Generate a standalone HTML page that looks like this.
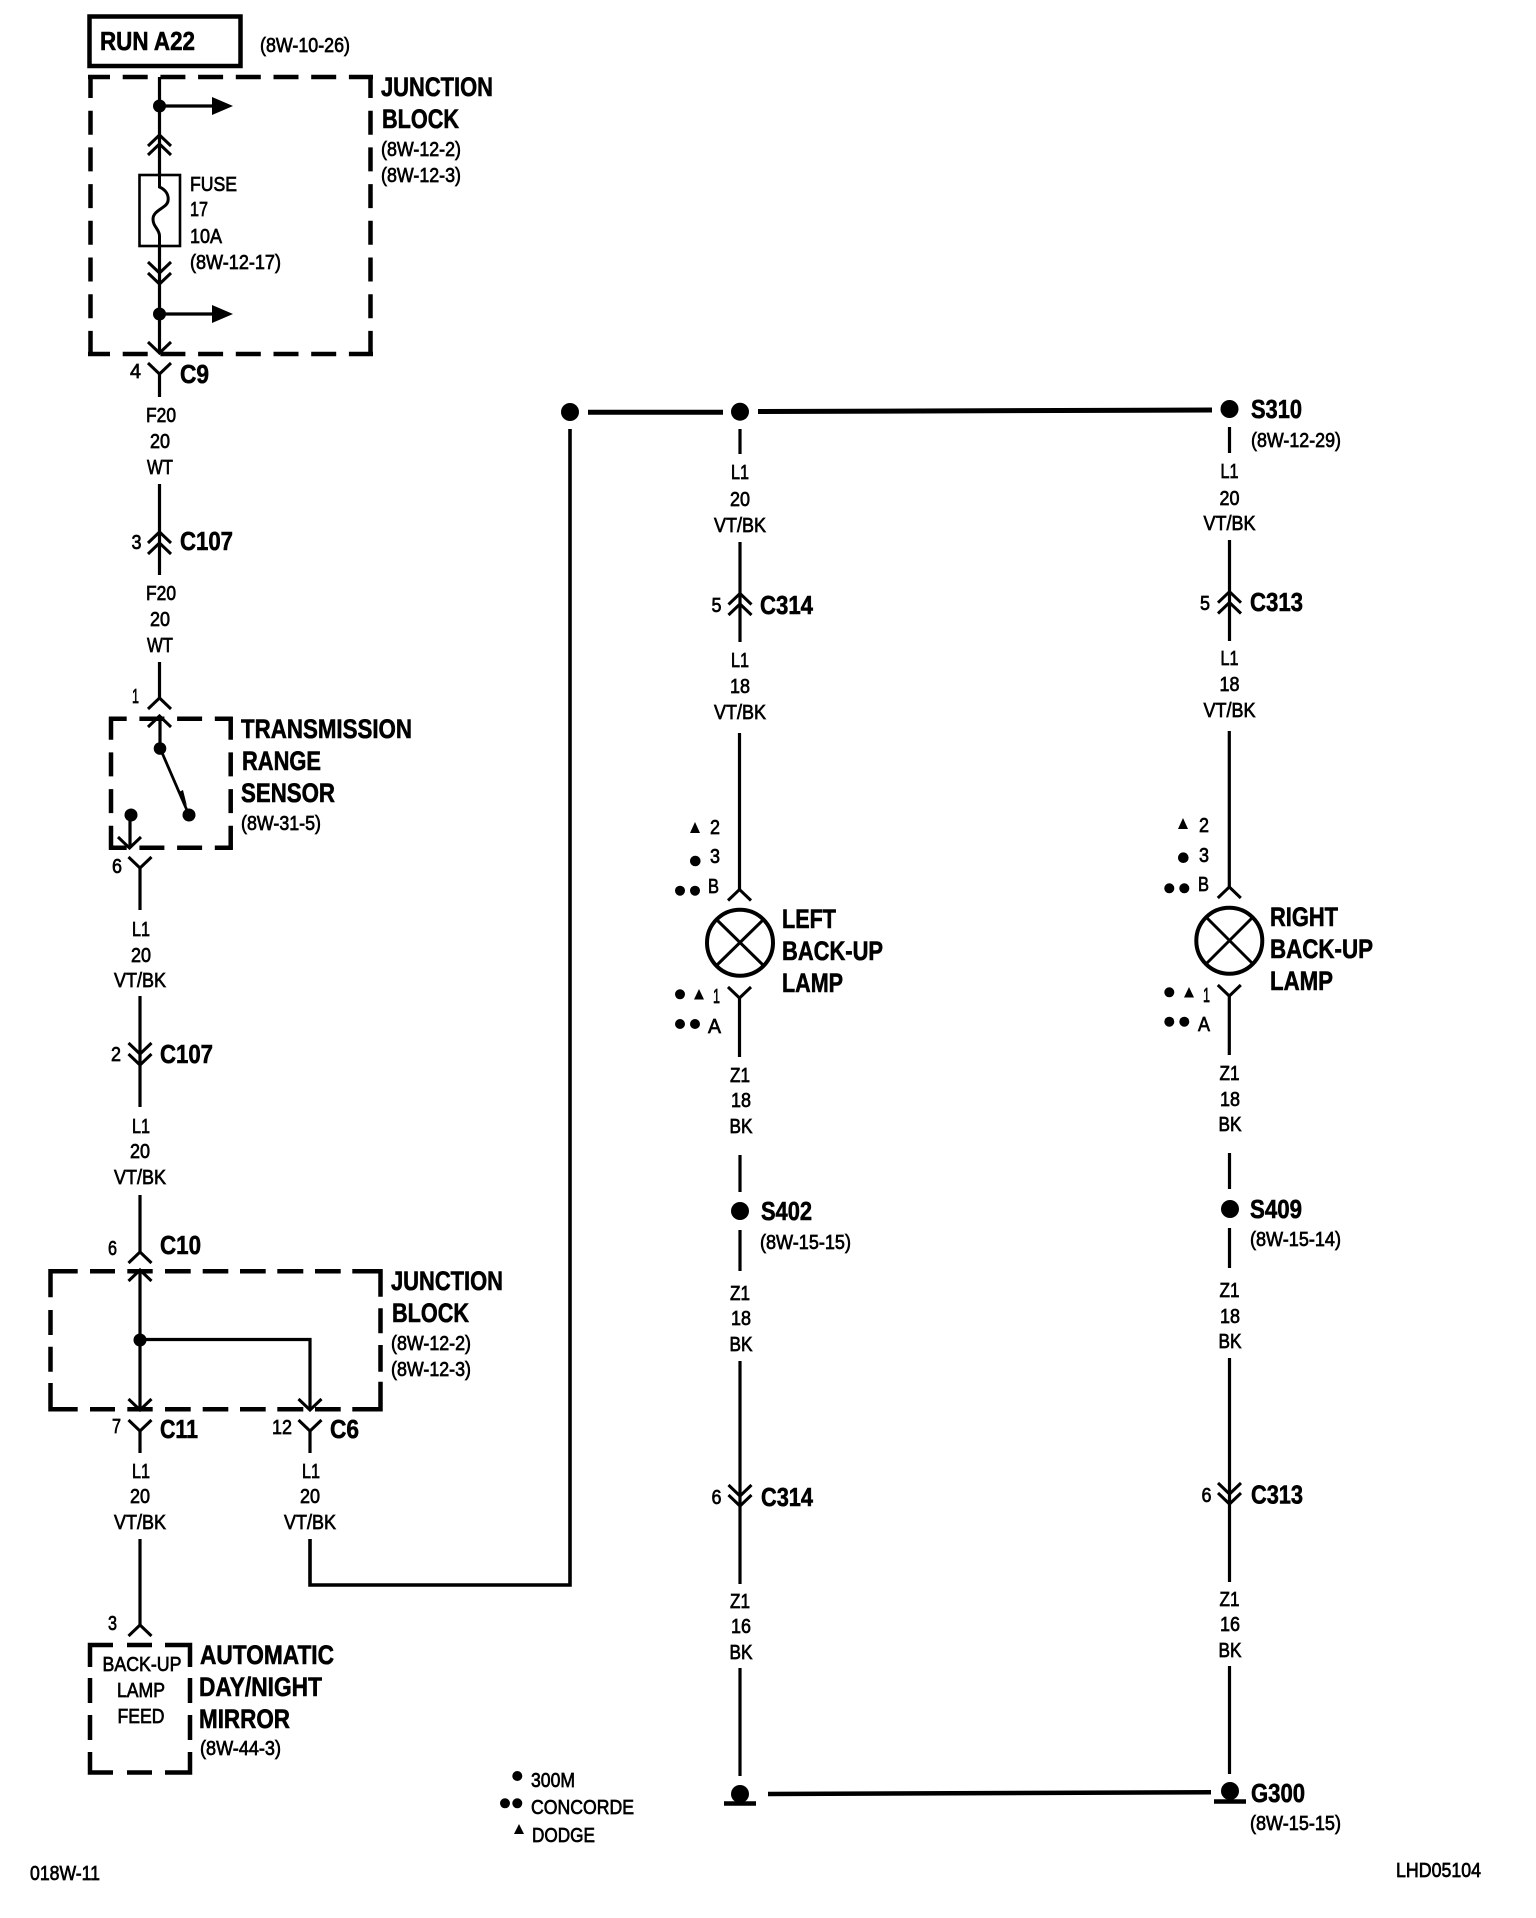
<!DOCTYPE html>
<html>
<head>
<meta charset="utf-8">
<style>
html,body{margin:0;padding:0;background:#fff;}
svg{display:block;}
text{font-family:"Liberation Sans",sans-serif;fill:#000;}
.s{font-size:20.5px;stroke:#000;stroke-width:.7;}
.b{font-size:27px;font-weight:bold;stroke:#000;stroke-width:.6;}
.c{font-size:26px;font-weight:bold;stroke:#000;stroke-width:.6;}
.m{text-anchor:middle;}
.w{fill:none;stroke:#000;stroke-width:3.2;}
.h{fill:none;stroke:#000;stroke-width:4.5;}
.d{fill:none;stroke:#000;stroke-width:4.5;}
.ch{fill:none;stroke:#000;stroke-width:3;}
</style>
</head>
<body>
<svg xmlns="http://www.w3.org/2000/svg" width="1536" height="1918" viewBox="0 0 1536 1918">
<defs>
<path id="cu" d="M-11.5,11L0,0L11.5,11"/>
<path id="cd" d="M-11.5,-11L0,0L11.5,-11"/>
</defs>
<rect x="0" y="0" width="1536" height="1918" fill="#fff"/>

<!-- RUN A22 -->
<rect x="89.5" y="16.5" width="151" height="49.5" fill="none" stroke="#000" stroke-width="4.5"/>
<text class="c" x="100" y="50" textLength="95" lengthAdjust="spacingAndGlyphs">RUN A22</text>
<text class="s" x="260" y="52" textLength="90" lengthAdjust="spacingAndGlyphs">(8W-10-26)</text>

<!-- Junction block 1 -->
<path class="d" d="M88,77H373" stroke-dasharray="25 12.7" stroke-dashoffset="3"/>
<path class="d" d="M88,354H373" stroke-dasharray="25 12.7" stroke-dashoffset="3"/>
<path class="d" d="M90.5,75V356" stroke-dasharray="24 12.7" stroke-dashoffset="1"/>
<path class="d" d="M370.5,75V356" stroke-dasharray="24 12.7" stroke-dashoffset="1"/>
<path class="w" d="M159.5,77V175M159.5,246V353"/>
<circle cx="159.5" cy="106" r="6.5"/>
<path class="w" d="M160,106H214"/>
<polygon points="212,97 233,106 212,115"/>
<circle cx="159.5" cy="314" r="6.5"/>
<path class="w" d="M160,314H214"/>
<polygon points="212,305 233,314 212,323"/>
<g class="ch">
<use href="#cu" x="159.5" y="135"/><use href="#cu" x="159.5" y="144"/>
<use href="#cd" x="159.5" y="273"/><use href="#cd" x="159.5" y="284"/>
<use href="#cd" x="159.5" y="353"/><use href="#cd" x="159.5" y="374"/>
</g>
<rect x="139.5" y="175" width="40.5" height="71" fill="none" stroke="#000" stroke-width="2.6"/>
<path class="w" style="stroke-width:3" d="M159.5,175V187C166,190 169,195 168,201C167,208 153,210 153,219C153,227 159.5,229 159.5,236V246"/>
<text class="s" x="190" y="191" textLength="47" lengthAdjust="spacingAndGlyphs">FUSE</text>
<text class="s" x="190" y="216" textLength="18" lengthAdjust="spacingAndGlyphs">17</text>
<text class="s" x="190" y="243" textLength="32" lengthAdjust="spacingAndGlyphs">10A</text>
<text class="s" x="190" y="269" textLength="91" lengthAdjust="spacingAndGlyphs">(8W-12-17)</text>
<text class="b" x="381" y="96" textLength="112" lengthAdjust="spacingAndGlyphs">JUNCTION</text>
<text class="b" x="382" y="128" textLength="77" lengthAdjust="spacingAndGlyphs">BLOCK</text>
<text class="s" x="381" y="156" textLength="80" lengthAdjust="spacingAndGlyphs">(8W-12-2)</text>
<text class="s" x="381" y="182" textLength="80" lengthAdjust="spacingAndGlyphs">(8W-12-3)</text>

<!-- C9 -->
<path class="w" d="M159.5,374V397"/>
<text class="s" x="130" y="378" textLength="11" lengthAdjust="spacingAndGlyphs">4</text>
<text class="c" x="180" y="383" textLength="29" lengthAdjust="spacingAndGlyphs">C9</text>
<text class="s m" x="161" y="422" textLength="30" lengthAdjust="spacingAndGlyphs">F20</text>
<text class="s m" x="160" y="448" textLength="20" lengthAdjust="spacingAndGlyphs">20</text>
<text class="s m" x="160" y="474" textLength="26" lengthAdjust="spacingAndGlyphs">WT</text>

<!-- C107 upper -->
<path class="w" d="M159.5,484V575"/>
<g class="ch"><use href="#cu" x="159.5" y="532"/><use href="#cu" x="159.5" y="543"/></g>
<text class="s" x="131.5" y="549" textLength="10" lengthAdjust="spacingAndGlyphs">3</text>
<text class="c" x="180" y="550" textLength="53" lengthAdjust="spacingAndGlyphs">C107</text>
<text class="s m" x="161" y="600" textLength="30" lengthAdjust="spacingAndGlyphs">F20</text>
<text class="s m" x="160" y="626" textLength="20" lengthAdjust="spacingAndGlyphs">20</text>
<text class="s m" x="160" y="652" textLength="26" lengthAdjust="spacingAndGlyphs">WT</text>

<!-- Transmission range sensor -->
<path class="w" d="M159.5,662V698"/>
<g class="ch"><use href="#cu" x="159.5" y="698"/><use href="#cu" x="159.5" y="716"/></g>
<text class="s" x="132" y="703" textLength="7" lengthAdjust="spacingAndGlyphs">1</text>
<path class="d" d="M109,718.7H232.7" stroke-dasharray="25 12.7" stroke-dashoffset="7.3"/>
<path class="d" d="M109,847.7H232.7" stroke-dasharray="25 12.7" stroke-dashoffset="7.3"/>
<path class="d" d="M111,716.7V850" stroke-dasharray="24 12.7" stroke-dashoffset="1"/>
<path class="d" d="M230.7,716.7V850" stroke-dasharray="24 12.7" stroke-dashoffset="1"/>
<path class="w" d="M160,716V748"/>
<circle cx="160" cy="748.5" r="6.3"/>
<path class="w" style="stroke-width:2.8" d="M160,748L189,815"/>
<polygon points="179,792 183,790 187,806"/>
<circle cx="189" cy="815" r="6.5"/>
<circle cx="131" cy="815" r="6.5"/>
<path class="w" d="M130,815V848"/>
<g class="ch"><use href="#cd" x="129.5" y="848"/><use href="#cd" x="140" y="868"/></g>
<path class="w" d="M140,868V910"/>
<text class="s" x="112" y="873" textLength="10" lengthAdjust="spacingAndGlyphs">6</text>
<text class="b" x="241" y="738" textLength="171" lengthAdjust="spacingAndGlyphs">TRANSMISSION</text>
<text class="b" x="242" y="770" textLength="79" lengthAdjust="spacingAndGlyphs">RANGE</text>
<text class="b" x="241" y="802" textLength="94" lengthAdjust="spacingAndGlyphs">SENSOR</text>
<text class="s" x="241" y="830" textLength="80" lengthAdjust="spacingAndGlyphs">(8W-31-5)</text>
<text class="s m" x="141" y="936" textLength="18" lengthAdjust="spacingAndGlyphs">L1</text>
<text class="s m" x="141" y="962" textLength="20" lengthAdjust="spacingAndGlyphs">20</text>
<text class="s m" x="140" y="987" textLength="52" lengthAdjust="spacingAndGlyphs">VT/BK</text>

<!-- C107 lower -->
<path class="w" d="M140,996V1107"/>
<g class="ch"><use href="#cd" x="140" y="1054"/><use href="#cd" x="140" y="1065"/></g>
<text class="s" x="111" y="1061" textLength="10" lengthAdjust="spacingAndGlyphs">2</text>
<text class="c" x="160" y="1063" textLength="53" lengthAdjust="spacingAndGlyphs">C107</text>
<text class="s m" x="141" y="1133" textLength="18" lengthAdjust="spacingAndGlyphs">L1</text>
<text class="s m" x="140" y="1158" textLength="20" lengthAdjust="spacingAndGlyphs">20</text>
<text class="s m" x="140" y="1184" textLength="52" lengthAdjust="spacingAndGlyphs">VT/BK</text>

<!-- C10 + Junction block 2 -->
<path class="w" d="M140,1195V1252"/>
<g class="ch"><use href="#cu" x="140" y="1252"/><use href="#cu" x="140" y="1270"/></g>
<text class="s" x="108" y="1255" textLength="9" lengthAdjust="spacingAndGlyphs">6</text>
<text class="c" x="160" y="1254" textLength="41" lengthAdjust="spacingAndGlyphs">C10</text>
<path class="d" d="M50.5,1297.3V1271.3H77.7M90,1271.3H115M127.3,1271.3H152.7M165,1271.3H190.7M202.7,1271.3H228.3M240,1271.3H265.7M277.3,1271.3H303.3M315,1271.3H340.7M352.3,1271.3H380.5V1296.7"/>
<path class="d" d="M380.5,1308.3V1333.3M380.5,1345V1371.7"/>
<path class="d" d="M50.5,1310V1335M50.5,1346.7V1371.7"/>
<path class="d" d="M50.5,1383V1409.3H77.7M90,1409.3H115M127.3,1409.3H152.7M165,1409.3H190.7M202.7,1409.3H228.3M240,1409.3H265.7M277.3,1409.3H303.3M315,1409.3H340.7M352.3,1409.3H380.5V1381.7"/>
<path class="w" d="M140,1270V1410"/>
<circle cx="140" cy="1340" r="6.5"/>
<path class="w" d="M140,1339.5H310V1410"/>
<g class="ch">
<use href="#cd" x="140" y="1410"/><use href="#cd" x="310" y="1410"/>
<use href="#cd" x="140" y="1431"/><use href="#cd" x="310" y="1431"/>
</g>
<path class="w" d="M140,1431V1453M310,1431V1453"/>
<text class="s" x="112" y="1433" textLength="9" lengthAdjust="spacingAndGlyphs">7</text>
<text class="c" x="160" y="1438" textLength="38" lengthAdjust="spacingAndGlyphs">C11</text>
<text class="s" x="272" y="1434" textLength="20" lengthAdjust="spacingAndGlyphs">12</text>
<text class="c" x="330" y="1438" textLength="29" lengthAdjust="spacingAndGlyphs">C6</text>
<text class="b" x="391" y="1290" textLength="112" lengthAdjust="spacingAndGlyphs">JUNCTION</text>
<text class="b" x="392" y="1322" textLength="77" lengthAdjust="spacingAndGlyphs">BLOCK</text>
<text class="s" x="391" y="1350" textLength="80" lengthAdjust="spacingAndGlyphs">(8W-12-2)</text>
<text class="s" x="391" y="1376" textLength="80" lengthAdjust="spacingAndGlyphs">(8W-12-3)</text>
<text class="s m" x="141" y="1478" textLength="18" lengthAdjust="spacingAndGlyphs">L1</text>
<text class="s m" x="140" y="1503" textLength="20" lengthAdjust="spacingAndGlyphs">20</text>
<text class="s m" x="140" y="1529" textLength="52" lengthAdjust="spacingAndGlyphs">VT/BK</text>
<text class="s m" x="311" y="1478" textLength="18" lengthAdjust="spacingAndGlyphs">L1</text>
<text class="s m" x="310" y="1503" textLength="20" lengthAdjust="spacingAndGlyphs">20</text>
<text class="s m" x="310" y="1529" textLength="52" lengthAdjust="spacingAndGlyphs">VT/BK</text>

<!-- Mirror -->
<path class="w" d="M140,1539V1625"/>
<g class="ch"><use href="#cu" x="140" y="1625"/></g>
<text class="s" x="108" y="1630" textLength="9" lengthAdjust="spacingAndGlyphs">3</text>
<path class="d" d="M90,1667V1645H113M127,1645H152M165,1645H190V1667"/>
<path class="d" d="M90,1678V1703M90,1715V1740"/>
<path class="d" d="M190,1678V1703M190,1715V1740"/>
<path class="d" d="M90,1752V1772.5H113M127,1772.5H152M165,1772.5H190V1752"/>
<text class="s m" x="142" y="1671" textLength="79" lengthAdjust="spacingAndGlyphs">BACK-UP</text>
<text class="s m" x="141" y="1697" textLength="48" lengthAdjust="spacingAndGlyphs">LAMP</text>
<text class="s m" x="141" y="1723" textLength="47" lengthAdjust="spacingAndGlyphs">FEED</text>
<text class="b" x="200" y="1664" textLength="134" lengthAdjust="spacingAndGlyphs">AUTOMATIC</text>
<text class="b" x="199" y="1696" textLength="123" lengthAdjust="spacingAndGlyphs">DAY/NIGHT</text>
<text class="b" x="199" y="1728" textLength="91" lengthAdjust="spacingAndGlyphs">MIRROR</text>
<text class="s" x="200" y="1755" textLength="81" lengthAdjust="spacingAndGlyphs">(8W-44-3)</text>

<!-- Cross-over wire -->
<path class="h" style="stroke-width:3.6" d="M310,1539V1585H570V429"/>
<circle cx="570" cy="412" r="9"/>
<path class="h" style="stroke-width:5" d="M588,412.3H723"/>
<circle cx="740" cy="411.7" r="9"/>
<path class="h" style="stroke-width:5" d="M758,411.5L1212,410"/>
<circle cx="1229.5" cy="409" r="9"/>
<text class="c" x="1251" y="418" textLength="51" lengthAdjust="spacingAndGlyphs">S310</text>
<text class="s" x="1251" y="447" textLength="90" lengthAdjust="spacingAndGlyphs">(8W-12-29)</text>

<!-- LEFT COLUMN -->
<path class="w" d="M740,429V454M740,542V642"/>
<g class="ch"><use href="#cu" x="740" y="593.5"/><use href="#cu" x="740" y="604"/></g>
<text class="s m" x="740" y="479" textLength="18" lengthAdjust="spacingAndGlyphs">L1</text>
<text class="s m" x="740" y="506" textLength="20" lengthAdjust="spacingAndGlyphs">20</text>
<text class="s m" x="740" y="532" textLength="52" lengthAdjust="spacingAndGlyphs">VT/BK</text>
<text class="s" x="711.5" y="612" textLength="10" lengthAdjust="spacingAndGlyphs">5</text>
<text class="c" x="760" y="614" textLength="53" lengthAdjust="spacingAndGlyphs">C314</text>
<text class="s m" x="740" y="667" textLength="18" lengthAdjust="spacingAndGlyphs">L1</text>
<text class="s m" x="740" y="693" textLength="20" lengthAdjust="spacingAndGlyphs">18</text>
<text class="s m" x="740" y="719" textLength="52" lengthAdjust="spacingAndGlyphs">VT/BK</text>
<path class="w" d="M739.5,733V889"/>
<g class="ch"><use href="#cu" x="739.5" y="889.5"/><use href="#cd" x="739.5" y="998"/></g>
<circle cx="740" cy="942.7" r="33" fill="none" stroke="#000" stroke-width="4"/>
<path class="w" style="stroke-width:3" d="M717,920L763,965M763,920L717,965"/>
<path class="w" d="M739.5,998V1057"/>
<polygon points="690,833 700,833 695,822"/>
<text class="s" x="710" y="834" textLength="10" lengthAdjust="spacingAndGlyphs">2</text>
<circle cx="695.3" cy="861" r="5.3"/>
<text class="s" x="710" y="863" textLength="10" lengthAdjust="spacingAndGlyphs">3</text>
<circle cx="680" cy="890.7" r="5"/><circle cx="695" cy="890.7" r="5"/>
<text class="s" x="708" y="893" textLength="11" lengthAdjust="spacingAndGlyphs">B</text>
<circle cx="680" cy="994.3" r="5"/>
<polygon points="694,999.5 704,999.5 699,989"/>
<text class="s" x="713" y="1003" textLength="7" lengthAdjust="spacingAndGlyphs">1</text>
<circle cx="680" cy="1024" r="5"/><circle cx="695" cy="1024" r="5"/>
<text class="s" x="708" y="1033" textLength="13" lengthAdjust="spacingAndGlyphs">A</text>
<text class="b" x="782" y="928" textLength="54" lengthAdjust="spacingAndGlyphs">LEFT</text>
<text class="b" x="782" y="960" textLength="101" lengthAdjust="spacingAndGlyphs">BACK-UP</text>
<text class="b" x="782" y="992" textLength="61" lengthAdjust="spacingAndGlyphs">LAMP</text>
<text class="s m" x="740" y="1082" textLength="20" lengthAdjust="spacingAndGlyphs">Z1</text>
<text class="s m" x="741" y="1107" textLength="20" lengthAdjust="spacingAndGlyphs">18</text>
<text class="s m" x="741" y="1133" textLength="23" lengthAdjust="spacingAndGlyphs">BK</text>
<path class="w" d="M740,1155V1192"/>
<circle cx="740" cy="1211" r="9"/>
<text class="c" x="761" y="1220" textLength="51" lengthAdjust="spacingAndGlyphs">S402</text>
<text class="s" x="760" y="1249" textLength="91" lengthAdjust="spacingAndGlyphs">(8W-15-15)</text>
<path class="w" d="M740,1230V1271"/>
<text class="s m" x="740" y="1300" textLength="20" lengthAdjust="spacingAndGlyphs">Z1</text>
<text class="s m" x="741" y="1325" textLength="20" lengthAdjust="spacingAndGlyphs">18</text>
<text class="s m" x="741" y="1351" textLength="23" lengthAdjust="spacingAndGlyphs">BK</text>
<path class="w" d="M740,1361V1584"/>
<g class="ch"><use href="#cd" x="740" y="1496"/><use href="#cd" x="740" y="1506"/></g>
<text class="s" x="711.5" y="1504" textLength="10" lengthAdjust="spacingAndGlyphs">6</text>
<text class="c" x="761" y="1506" textLength="52" lengthAdjust="spacingAndGlyphs">C314</text>
<text class="s m" x="740" y="1608" textLength="20" lengthAdjust="spacingAndGlyphs">Z1</text>
<text class="s m" x="741" y="1633" textLength="20" lengthAdjust="spacingAndGlyphs">16</text>
<text class="s m" x="741" y="1659" textLength="23" lengthAdjust="spacingAndGlyphs">BK</text>
<path class="w" d="M740,1668V1776"/>
<circle cx="740" cy="1794" r="9"/>
<path class="h" d="M724,1803.5H756"/>
<path class="h" d="M768,1794L1211,1792.3"/>

<!-- RIGHT COLUMN -->
<path class="w" d="M1229.5,427V453M1229.5,540V641"/>
<g class="ch"><use href="#cu" x="1229.5" y="591.7"/><use href="#cu" x="1229.5" y="602.5"/></g>
<text class="s m" x="1229.5" y="478" textLength="18" lengthAdjust="spacingAndGlyphs">L1</text>
<text class="s m" x="1229.5" y="505" textLength="20" lengthAdjust="spacingAndGlyphs">20</text>
<text class="s m" x="1229.5" y="530" textLength="52" lengthAdjust="spacingAndGlyphs">VT/BK</text>
<text class="s" x="1200" y="610" textLength="10" lengthAdjust="spacingAndGlyphs">5</text>
<text class="c" x="1250" y="611" textLength="53" lengthAdjust="spacingAndGlyphs">C313</text>
<text class="s m" x="1229.5" y="665" textLength="18" lengthAdjust="spacingAndGlyphs">L1</text>
<text class="s m" x="1229.5" y="691" textLength="20" lengthAdjust="spacingAndGlyphs">18</text>
<text class="s m" x="1229.5" y="717" textLength="52" lengthAdjust="spacingAndGlyphs">VT/BK</text>
<path class="w" d="M1229.3,731V887"/>
<g class="ch"><use href="#cu" x="1229.3" y="887"/><use href="#cd" x="1229.3" y="996"/></g>
<circle cx="1229.3" cy="940.7" r="33" fill="none" stroke="#000" stroke-width="4"/>
<path class="w" style="stroke-width:3" d="M1207,918L1252,963M1252,918L1207,963"/>
<path class="w" d="M1229.3,996V1055"/>
<polygon points="1178,829 1188,829 1183,818"/>
<text class="s" x="1199" y="832" textLength="10" lengthAdjust="spacingAndGlyphs">2</text>
<circle cx="1183.3" cy="857.7" r="5.3"/>
<text class="s" x="1199" y="862" textLength="10" lengthAdjust="spacingAndGlyphs">3</text>
<circle cx="1169.3" cy="888.3" r="5"/><circle cx="1184.3" cy="888.3" r="5"/>
<text class="s" x="1198" y="891" textLength="11" lengthAdjust="spacingAndGlyphs">B</text>
<circle cx="1169.3" cy="992.3" r="5"/>
<polygon points="1184,997.5 1194,997.5 1189,987"/>
<text class="s" x="1203" y="1002" textLength="7" lengthAdjust="spacingAndGlyphs">1</text>
<circle cx="1169.3" cy="1021.7" r="5"/><circle cx="1184.3" cy="1021.7" r="5"/>
<text class="s" x="1198" y="1031" textLength="12" lengthAdjust="spacingAndGlyphs">A</text>
<text class="b" x="1270" y="926" textLength="68" lengthAdjust="spacingAndGlyphs">RIGHT</text>
<text class="b" x="1270" y="958" textLength="103" lengthAdjust="spacingAndGlyphs">BACK-UP</text>
<text class="b" x="1270" y="990" textLength="63" lengthAdjust="spacingAndGlyphs">LAMP</text>
<text class="s m" x="1229.5" y="1080" textLength="20" lengthAdjust="spacingAndGlyphs">Z1</text>
<text class="s m" x="1230" y="1106" textLength="20" lengthAdjust="spacingAndGlyphs">18</text>
<text class="s m" x="1230" y="1131" textLength="23" lengthAdjust="spacingAndGlyphs">BK</text>
<path class="w" d="M1229.5,1153V1189"/>
<circle cx="1230" cy="1209" r="9"/>
<text class="c" x="1250" y="1218" textLength="52" lengthAdjust="spacingAndGlyphs">S409</text>
<text class="s" x="1250" y="1246" textLength="91" lengthAdjust="spacingAndGlyphs">(8W-15-14)</text>
<path class="w" d="M1229.5,1228V1268"/>
<text class="s m" x="1229.5" y="1297" textLength="20" lengthAdjust="spacingAndGlyphs">Z1</text>
<text class="s m" x="1230" y="1323" textLength="20" lengthAdjust="spacingAndGlyphs">18</text>
<text class="s m" x="1230" y="1348" textLength="23" lengthAdjust="spacingAndGlyphs">BK</text>
<path class="w" d="M1229.5,1358V1582"/>
<g class="ch"><use href="#cd" x="1229.5" y="1494"/><use href="#cd" x="1229.5" y="1504"/></g>
<text class="s" x="1201.5" y="1502" textLength="10" lengthAdjust="spacingAndGlyphs">6</text>
<text class="c" x="1251" y="1503.5" textLength="52" lengthAdjust="spacingAndGlyphs">C313</text>
<text class="s m" x="1229.5" y="1606" textLength="20" lengthAdjust="spacingAndGlyphs">Z1</text>
<text class="s m" x="1230" y="1631" textLength="20" lengthAdjust="spacingAndGlyphs">16</text>
<text class="s m" x="1230" y="1657" textLength="23" lengthAdjust="spacingAndGlyphs">BK</text>
<path class="w" d="M1229.5,1666V1774"/>
<circle cx="1230" cy="1791" r="9"/>
<path class="h" d="M1214,1801.5H1246"/>
<text class="c" x="1251" y="1802" textLength="54" lengthAdjust="spacingAndGlyphs">G300</text>
<text class="s" x="1250" y="1830" textLength="91" lengthAdjust="spacingAndGlyphs">(8W-15-15)</text>

<!-- Legend -->
<circle cx="517.3" cy="1776" r="5"/>
<text class="s" x="531" y="1787" textLength="44" lengthAdjust="spacingAndGlyphs">300M</text>
<circle cx="505" cy="1803.3" r="5"/><circle cx="517.3" cy="1803.3" r="5"/>
<text class="s" x="531" y="1814" textLength="103" lengthAdjust="spacingAndGlyphs">CONCORDE</text>
<polygon points="514,1834 524,1834 519,1824"/>
<text class="s" x="532" y="1842" textLength="63" lengthAdjust="spacingAndGlyphs">DODGE</text>

<text class="s" x="30" y="1880" textLength="70" lengthAdjust="spacingAndGlyphs">018W-11</text>
<text class="s" x="1396" y="1877" textLength="85" lengthAdjust="spacingAndGlyphs">LHD05104</text>
</svg>
</body>
</html>
